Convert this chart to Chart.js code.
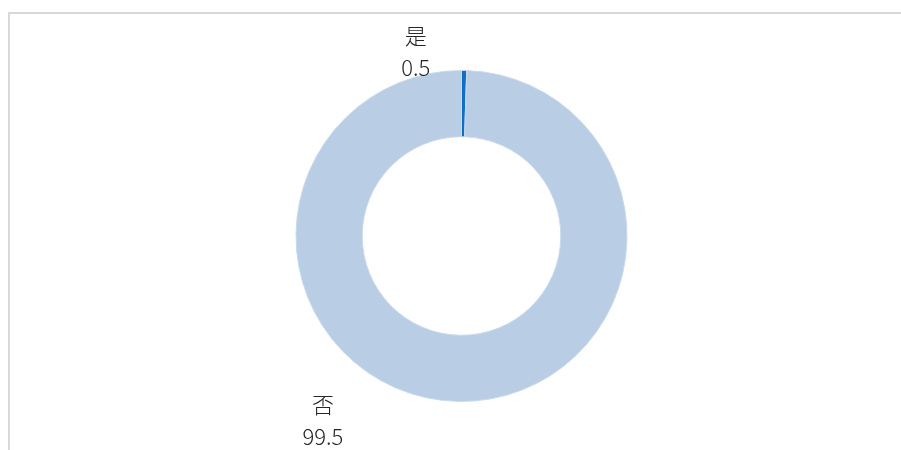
<!DOCTYPE html>
<html>
<head>
<meta charset="utf-8">
<script src="https://cdn.jsdelivr.net/npm/chart.js@4"></script>
<style>
  html,body{margin:0;padding:0;background:#fff;overflow:hidden;}
  canvas{display:block;}
</style>
</head>
<body>
<canvas id="c" width="901" height="450"></canvas>
<script>
const categories = ['是', '否'];
const values = [0.5, 99.5];
const valueLabels = ['0.5', '99.5'];

// label placement relative to doughnut center, in units of outer radius
const labelOffsets = [
  {dx: -0.277, dy: -1.21},
  {dx: -0.837, dy: 1.018}
];

const framePlugin = {
  id: 'frame',
  beforeDraw(chart) {
    const ctx = chart.ctx;
    ctx.save();
    ctx.strokeStyle = '#d9d9d9';
    ctx.lineWidth = 2;
    ctx.beginPath();
    ctx.moveTo(9, chart.height);
    ctx.lineTo(9, 13);
    ctx.lineTo(chart.width, 13);
    ctx.stroke();
    ctx.restore();
  }
};

const labelPlugin = {
  id: 'outLabels',
  afterDatasetsDraw(chart) {
    const ctx = chart.ctx;
    const meta = chart.getDatasetMeta(0);
    ctx.save();
    ctx.fillStyle = '#262626';
    ctx.textAlign = 'center';
    ctx.textBaseline = 'middle';
    ctx.font = '300 22px "Noto Sans CJK SC", "Noto Sans", sans-serif';
    meta.data.forEach((arc, i) => {
      const r = arc.outerRadius;
      const x = arc.x + labelOffsets[i].dx * r;
      const y = arc.y + labelOffsets[i].dy * r;
      ctx.fillText(categories[i], x, y);
      ctx.fillText(valueLabels[i], x, y + 32);
    });
    ctx.restore();
  }
};

new Chart(document.getElementById('c'), {
  type: 'doughnut',
  data: {
    labels: categories,
    datasets: [{
      data: values,
      backgroundColor: ['#0F6FC6', '#B9CDE5'],
      borderColor: ['#C9D9EC', '#C9D9EC'],
      borderWidth: 1
    }]
  },
  options: {
    responsive: false,
    animation: false,
    cutout: '60%',
    layout: { padding: { top: 70, bottom: 48, left: 22, right: 0 } },
    plugins: {
      legend: { display: false },
      tooltip: { enabled: false }
    }
  },
  plugins: [framePlugin, labelPlugin]
});
</script>
</body>
</html>
